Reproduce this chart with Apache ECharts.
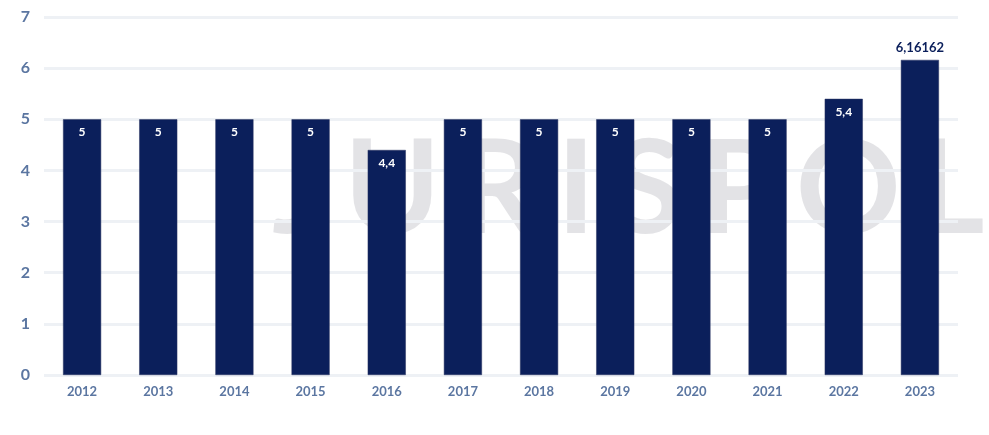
<!DOCTYPE html>
<html><head><meta charset="utf-8">
<script src="https://cdn.jsdelivr.net/npm/echarts@6/dist/echarts.min.js"></script>
<style>html,body{margin:0;padding:0;background:#fff}#c{width:989px;height:435px}</style>
</head><body><div id="c"></div>
<script>
const years = ['2012','2013','2014','2015','2016','2017','2018','2019','2020','2021','2022','2023'];
const values = [5,5,5,5,4.4,5,5,5,5,5,5.4,6.16162];
const labels = ['5','5','5','5','4,4','5','5','5','5','5','5,4','6,16162'];
const yTicks = [0,1,2,3,4,5,6,7];

const chart = echarts.init(document.getElementById('c'));
const navy = '#0b1f5b';
const data = values.map((v,i)=>{
  const outside = i === values.length-1;
  return {
    value: v,
    label: outside ? {position:'top', color:navy, fontSize:13, distance:6} : {position:'insideTop', color:'#fff', fontSize:12, distance:7}
  };
});
chart.setOption({
  animation:false,
  graphic:[{
    type:'text', left:272, top:126, z:-1, silent:true,
    style:{text:'J\u2009U\u2009R\u2009I\u2009S\u2009P\u2009O\u2009L', fontSize:130, fontWeight:'bold', fontFamily:'Lato', fill:'rgba(200,200,205,0.5)'}
  }],
  grid:{left:44,right:31,top:17,bottom:60},
  xAxis:{type:'category',data:years,
    axisLine:{show:false},axisTick:{show:false},
    axisLabel:{color:'#5b76a1',fontWeight:'bold',fontSize:13,fontFamily:'Lato',margin:10}},
  yAxis:{type:'value',min:yTicks[0],max:yTicks[yTicks.length-1],interval:1,
    axisLabel:{color:'#5b76a1',fontWeight:'bold',fontSize:16,fontFamily:'Lato',margin:14},
    splitLine:{lineStyle:{color:'#eef1f5',width:3}}},
  series:[{type:'bar',data:data,barWidth:'50%',
    itemStyle:{color:navy,borderColor:'#2a3560',borderWidth:0.5},
    label:{show:true,fontWeight:'bold',fontFamily:'Lato',formatter:p=>labels[p.dataIndex]}}]
});
</script></body></html>
